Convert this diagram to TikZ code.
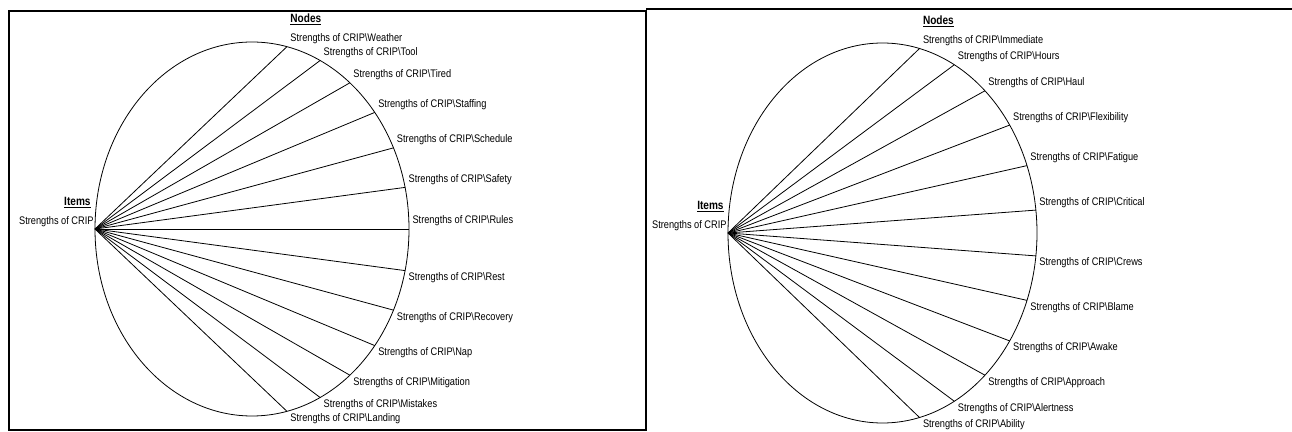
\documentclass[tikz,border=0pt]{standalone}
\usepackage{fontspec}
\setmainfont{Liberation Sans}
\usetikzlibrary{positioning}

\begin{document}
\begin{tikzpicture}[
    x=1pt, y=1pt,
    lbl/.style={
      inner sep=0pt,
      xscale=0.84,
      font=\fontsize{11}{13}\selectfont
    },
    up/.style={lbl, anchor=base west, xshift=4pt, yshift=5pt},
    down/.style={lbl, anchor=base west, xshift=4pt, yshift=-10pt},
    item/.style={lbl, anchor=base east, xshift=-1.5pt, yshift=4pt},
    head/.style={
      inner sep=0pt,
      xscale=0.84,
      font=\fontsize{12}{14}\selectfont\bfseries
    },
    frame/.style={line width=2pt},
    spoke/.style={line width=0.8pt}
  ]
  \useasboundingbox (0,0) rectangle (1292,431);
  \draw[frame] (8.5,1) rectangle (646,420);
  \draw[frame] (646,421.5) -- (1292,421.5);

  % left panel
  \begin{scope}[shift={(252,202)}, x=157pt, y=187pt]
    \draw[spoke] (0,0) ellipse [x radius=157pt, y radius=187pt];
    \coordinate (hubA) at (180:1);
    \node[item] (itemA) at (hubA) {Strengths of CRIP};
    \node[head, anchor=base east] (itemsA) at ([xshift=-3pt, yshift=19pt]itemA.base east) {\underline{Items}};
    \foreach \nm [count=\i] in {Weather,Tool,Tired,Staffing,Schedule,Safety,Rules} {
      \coordinate (a\i) at ({90-\i*180/14}:1);
      \draw[spoke] (hubA) -- (a\i);
      \node[up] (a\i l) at (a\i) {Strengths of CRIP\textbackslash\nm};
    }
    \foreach \nm [count=\i from 8] in {Rest,Recovery,Nap,Mitigation,Mistakes,Landing} {
      \coordinate (a\i) at ({90-\i*180/14}:1);
      \draw[spoke] (hubA) -- (a\i);
      \node[down] (a\i l) at (a\i) {Strengths of CRIP\textbackslash\nm};
    }
    \node[head, anchor=base west] (nodesA) at ([yshift=19pt]a1l.base west) {\underline{Nodes}};
  \end{scope}

  % right panel
  \begin{scope}[shift={(882.5,198)}, x=154.5pt, y=190pt]
    \draw[spoke] (0,0) ellipse [x radius=154.5pt, y radius=190pt];
    \coordinate (hubB) at (180:1);
    \node[item] (itemB) at (hubB) {Strengths of CRIP};
    \node[head, anchor=base east] (itemsB) at ([xshift=-3pt, yshift=19pt]itemB.base east) {\underline{Items}};
    \foreach \nm [count=\i] in {Immediate,Hours,Haul,Flexibility,Fatigue,Critical} {
      \coordinate (b\i) at ({90-\i*180/13}:1);
      \draw[spoke] (hubB) -- (b\i);
      \node[up] (b\i l) at (b\i) {Strengths of CRIP\textbackslash\nm};
    }
    \foreach \nm [count=\i from 7] in {Crews,Blame,Awake,Approach,Alertness,Ability} {
      \coordinate (b\i) at ({90-\i*180/13}:1);
      \draw[spoke] (hubB) -- (b\i);
      \node[down] (b\i l) at (b\i) {Strengths of CRIP\textbackslash\nm};
    }
    \node[head, anchor=base west] (nodesB) at ([yshift=19pt]b1l.base west) {\underline{Nodes}};
  \end{scope}
\end{tikzpicture}
\end{document}
